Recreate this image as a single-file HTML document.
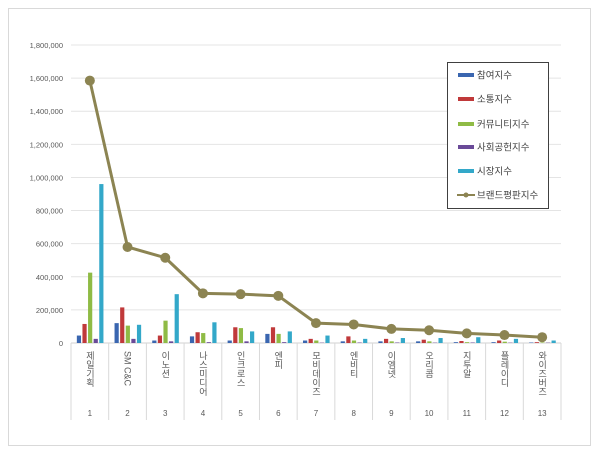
<!DOCTYPE html>
<html><head><meta charset="utf-8"><style>
body{margin:0;background:#fff;}
svg text{font-family:"Liberation Sans","Noto Sans CJK KR",sans-serif;}
</style></head><body>
<svg width="600" height="455" xmlns="http://www.w3.org/2000/svg">
<rect x="8.5" y="8.5" width="582" height="437" fill="#fff" stroke="#d9d9d9"/>
<g id="grid"></g><g id="bars"></g><g id="line"></g><g id="xaxis"></g>
<g>
<rect x="447.5" y="62.5" width="101" height="146" fill="#fff" stroke="#404040"/>
<g id="legend"></g>
</g>
</svg>
<script>
const categories=["제일기획","SM C&C","이노션","나스미디어","인크로스","엔피","모비데이즈","엔비티","이엠넷","오리콤","지투알","플레이디","와이즈버즈"];
const s1=[45000,120000,15000,40000,15000,55000,15000,10000,10000,10000,5000,5000,3000];
const s2=[115000,215000,45000,65000,95000,95000,25000,40000,25000,20000,12000,15000,5000];
const s3=[425000,105000,135000,60000,90000,55000,15000,15000,10000,10000,5000,8000,3000];
const s4=[25000,25000,10000,5000,10000,5000,2000,3000,3000,2000,3000,2000,2000];
const s5=[960000,110000,295000,125000,70000,70000,45000,25000,30000,30000,35000,25000,15000];
const brand=[1585000,580000,515000,300000,295000,285000,120000,112000,85000,77000,58000,48000,35000];
const yTicks=[0,200000,400000,600000,800000,1000000,1200000,1400000,1600000,1800000];
const seriesNames=["참여지수","소통지수","커뮤니티지수","사회공헌지수","시장지수","브랜드평판지수"];
const colors=["#3a66b0","#c0393a","#8fbb45","#6a4a98","#33a8c9","#8c8452"];
const NS="http://www.w3.org/2000/svg";
const X0=71,X1=561,Y0=343,YT=45,YMAX=1800000;
const bw=(X1-X0)/categories.length;
const y=v=>Y0-(v/YMAX)*(Y0-YT);
const xc=i=>X0+bw*(i+0.5);
function mk(t,a,p){const e=document.createElementNS(NS,t);for(const k in a)e.setAttribute(k,a[k]);p.appendChild(e);return e;}
const grid=document.getElementById('grid');
yTicks.forEach(t=>{
 const l=mk('line',{x1:X0,x2:X1,y1:y(t),y2:y(t),stroke:t===0?'#d0d0d0':'#e4e4e4'},grid);
 
 
 const tx=mk('text',{x:63,y:y(t)+3,'text-anchor':'end','font-size':'7.5',fill:'#595959'},grid);
 tx.textContent=t.toLocaleString('en-US');
 
 
});
const bars=document.getElementById('bars');
const series=[s1,s2,s3,s4,s5];
categories.forEach((c,i)=>{
 series.forEach((s,j)=>{
  const x=xc(i)-13+j*5.6;
  const r=mk('rect',{x:x,y:y(s[i]),width:4.2,height:Y0-y(s[i]),fill:colors[j]},bars);
  
  
 });
});
const lineG=document.getElementById('line');
const pts=brand.map((v,i)=>xc(i)+','+y(v)).join(' ');
const pl=mk('polyline',{points:pts,fill:'none',stroke:colors[5],'stroke-width':3},lineG);


brand.forEach((v,i)=>{
 const c=mk('circle',{cx:xc(i),cy:y(v),r:5,fill:colors[5]},lineG);
 
 
});
const xa=document.getElementById('xaxis');
for(let i=0;i<=categories.length;i++){
 const l=mk('line',{x1:X0+bw*i,x2:X0+bw*i,y1:Y0,y2:420,stroke:'#d9d9d9'},xa);
 
 
}
categories.forEach((c,i)=>{
 const t=mk('text',{x:xc(i),y:351,'font-size':'9',fill:'#595959',style:'writing-mode:vertical-rl'},xa);
 t.textContent=c;
 
 
 const n=mk('text',{x:xc(i),y:416,'font-size':'8','text-anchor':'middle',fill:'#595959'},xa);
 n.textContent=String(i+1);
 
 
});
const lg=document.getElementById('legend');
const ly=[75,99,124,147,171,195];
seriesNames.forEach((n,i)=>{
 if(i<5){const r=mk('rect',{x:458,y:ly[i]-2,width:16,height:4,fill:colors[i]},lg);
  
  }
 else{mk('line',{x1:457,x2:475,y1:ly[i],y2:ly[i],stroke:colors[5],'stroke-width':2},lg);
  mk('circle',{cx:466,cy:ly[i],r:2.5,fill:colors[5]},lg);}
 const t=mk('text',{x:477,y:ly[i]+3.5,'font-size':'9.5',fill:'#404040'},lg);
 t.textContent=n;
 
 
});
</script>
</body></html>
